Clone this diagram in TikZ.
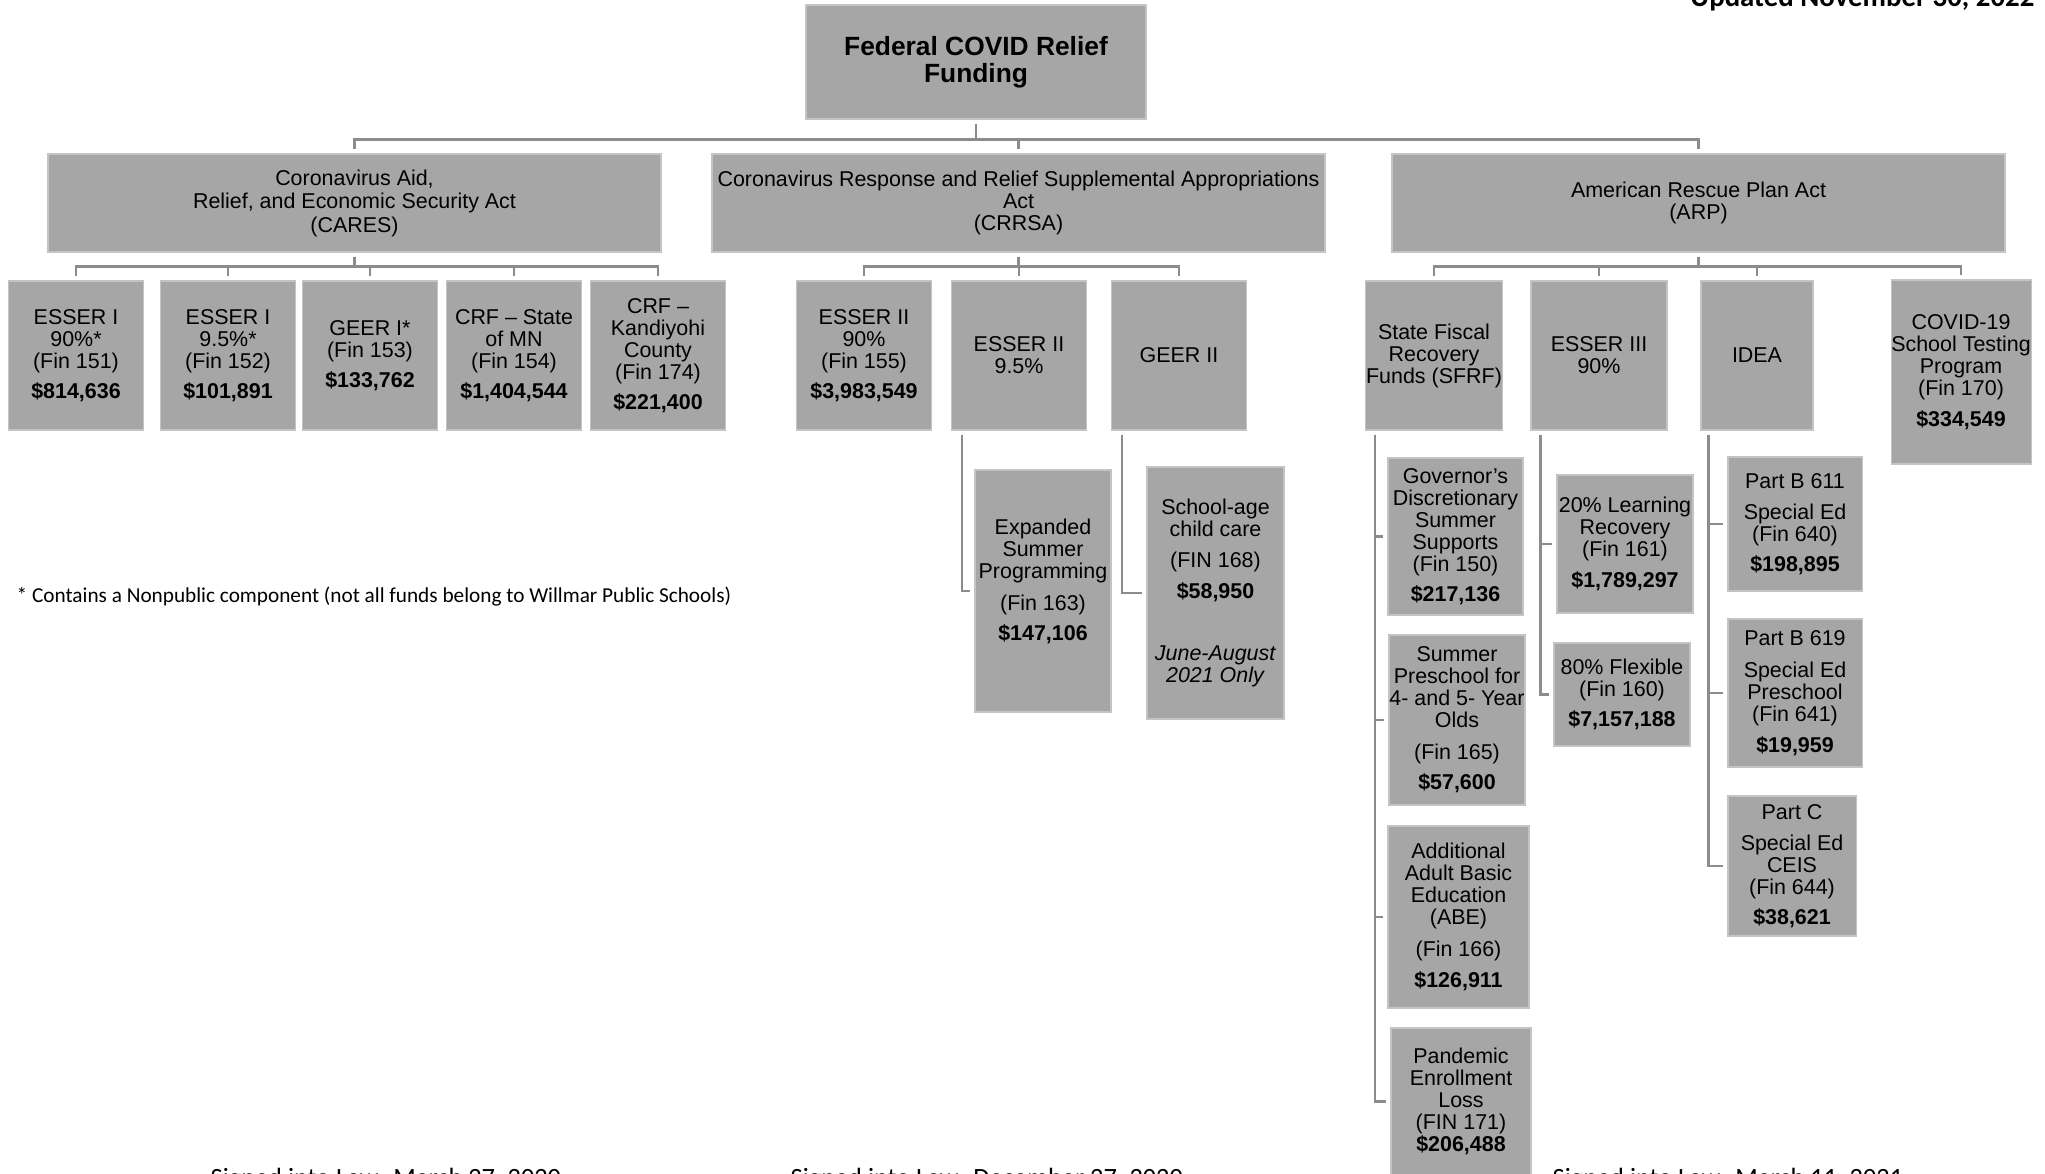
\documentclass[tikz,border=0pt]{standalone}
\usepackage{fontspec}
\setmainfont{Liberation Sans}
\newfontfamily\calibri{Carlito}
\definecolor{boxfill}{HTML}{A6A6A6}
\definecolor{boxedge}{HTML}{C4C4C4}
\definecolor{linkgray}{HTML}{8C8C8C}
\tikzset{
  fund/.style={draw=boxedge, fill=boxfill, line width=0.3pt, inner sep=0pt, align=center, font=\fontsize{6.1}{6.26}\selectfont},
  grant/.style={fund, minimum width=13.5mm, minimum height=14.9mm},
  link/.style={draw=linkgray, line width=0.8pt, shorten <=0.4mm, shorten >=0.45mm},
  remark/.style={inner sep=0pt, font=\calibri\fontsize{6.05}{7}\selectfont},
}

\begin{document}
\begin{tikzpicture}[x=0.1mm,y=-0.1mm]
  \path[use as bounding box] (0,0) rectangle (2045,1173);
  \clip (0,0) rectangle (2045,1173);

  \node [fund, minimum width=34mm, minimum height=11.4mm, font=\bfseries\fontsize{7.5}{7.8}\selectfont] (top) at (976,62) {Federal COVID Relief\\Funding};

  \node [fund, minimum width=61.3mm, minimum height=9.8mm, font=\fontsize{6.1}{6.7}\selectfont] (cares) at (354.5,203) {Coronavirus Aid,\\Relief, and Economic Security Act\\(CARES)};
  \node [fund, minimum width=61.3mm, minimum height=9.8mm] (crrsa) at (1018.5,203) {Coronavirus Response and Relief Supplemental Appropriations\\Act\\(CRRSA)};
  \node [fund, minimum width=61.3mm, minimum height=9.8mm, font=\fontsize{6.1}{6.5}\selectfont] (arp) at (1698.5,203) {American Rescue Plan Act\\(ARP)};

  \node [grant] (esserIa) at (76,355.5) {ESSER I\\90\%*\\(Fin 151)\\[2.4pt]\textbf{\$814,636}};
  \node [grant] (esserIb) at (228,355.5) {ESSER I\\9.5\%*\\(Fin 152)\\[2.4pt]\textbf{\$101,891}};
  \node [grant] (geerI) at (370,355.5) {GEER I*\\(Fin 153)\\[2.4pt]\textbf{\$133,762}};
  \node [grant] (crfmn) at (514,355.5) {CRF \textendash{} State\\of MN\\(Fin 154)\\[2.4pt]\textbf{\$1,404,544}};
  \node [grant] (crfkand) at (658,355.5) {CRF \textendash\\Kandiyohi\\County\\(Fin 174)\\[2.4pt]\textbf{\$221,400}};

  \node [grant] (esserIIa) at (864,355.5) {ESSER II\\90\%\\(Fin 155)\\[2.4pt]\textbf{\$3,983,549}};
  \node [grant] (esserIIb) at (1019,355.5) {ESSER II\\9.5\%};
  \node [grant] (geerII) at (1179,355.5) {GEER II};

  \node [grant, minimum width=13.7mm] (sfrf) at (1434,355.5) {State Fiscal\\Recovery\\Funds (SFRF)};
  \node [grant, minimum width=13.6mm] (esserIII) at (1599,355.5) {ESSER III\\90\%};
  \node [grant, minimum width=11.2mm] (idea) at (1757,355.5) {IDEA};
  \node [grant, minimum width=14mm, minimum height=18.4mm] (covid) at (1961,372) {COVID-19\\School Testing\\Program\\(Fin 170)\\[2.4pt]\textbf{\$334,549}};

  \node [fund, minimum width=13.6mm, minimum height=24.2mm] (expanded) at (1043,591) {Expanded\\Summer\\Programming\\[2.6pt](Fin 163)\\[2.4pt]\textbf{\$147,106}\\~};
  \node [fund, minimum width=13.7mm, minimum height=25.2mm] (schoolage) at (1215.5,593) {School-age\\child care\\[2.6pt](FIN 168)\\[2.4pt]\textbf{\$58,950}\\[11.4pt]\textit{June-August}\\\textit{2021 Only}};

  \node [fund, minimum width=13.5mm, minimum height=15.7mm] (governor) at (1455.5,536.5) {Governor’s\\Discretionary\\Summer\\Supports\\(Fin 150)\\[2.4pt]\textbf{\$217,136}};
  \node [fund, minimum width=13.6mm, minimum height=17mm] (preschool) at (1457,720) {Summer\\Preschool for\\4- and 5- Year\\Olds\\[2.8pt](Fin 165)\\[2.4pt]\textbf{\$57,600}};
  \node [fund, minimum width=14.1mm, minimum height=18.2mm] (abe) at (1458.5,917) {Additional\\Adult Basic\\Education\\(ABE)\\[2.8pt](Fin 166)\\[2.4pt]\textbf{\$126,911}};
  \node [fund, minimum width=14mm, minimum height=14.7mm] (pandemic) at (1461,1101.5) {Pandemic\\Enrollment\\Loss\\(FIN 171)\\\textbf{\$206,488}};

  \node [fund, minimum width=13.6mm, minimum height=13.8mm] (learning) at (1625,544) {20\% Learning\\Recovery\\(Fin 161)\\[2.4pt]\textbf{\$1,789,297}};
  \node [fund, minimum width=13.6mm, minimum height=10.3mm] (flexible) at (1622,694.5) {80\% Flexible\\(Fin 160)\\[2.4pt]\textbf{\$7,157,188}};

  \node [fund, minimum width=13.4mm, minimum height=13.4mm] (partBa) at (1795,524) {Part B 611\\[2.6pt]Special Ed\\(Fin 640)\\[2.4pt]\textbf{\$198,895}};
  \node [fund, minimum width=13.4mm, minimum height=14.8mm] (partBb) at (1795,693) {Part B 619\\[2.8pt]Special Ed\\Preschool\\(Fin 641)\\[2.6pt]\textbf{\$19,959}};
  \node [fund, minimum width=12.8mm, minimum height=14mm] (partC) at (1792,866) {Part C\\[2.6pt]Special Ed\\CEIS\\(Fin 644)\\[2.4pt]\textbf{\$38,621}};

  \draw [link] (top.south) -- ++(0,20) -| (cares.north);
  \draw [link] (top.south) -- ++(0,20) -| (crrsa.north);
  \draw [link] (top.south) -- ++(0,20) -| (arp.north);

  \draw [link] (cares.south) -- ++(0,14) -| (esserIa.north);
  \draw [link] (cares.south) -- ++(0,14) -| (esserIb.north);
  \draw [link] (cares.south) -- ++(0,14) -| (geerI.north);
  \draw [link] (cares.south) -- ++(0,14) -| (crfmn.north);
  \draw [link] (cares.south) -- ++(0,14) -| (crfkand.north);
  \draw [link] (crrsa.south) -- ++(0,14) -| (esserIIa.north);
  \draw [link] (crrsa.south) -- ++(0,14) -| (esserIIb.north);
  \draw [link] (crrsa.south) -- ++(0,14) -| (geerII.north);
  \draw [link] (arp.south) -- ++(0,14) -| (sfrf.north);
  \draw [link] (arp.south) -- ++(0,14) -| (esserIII.north);
  \draw [link] (arp.south) -- ++(0,14) -| (idea.north);
  \draw [link] (arp.south) -- ++(0,14) -| (covid.north);

  \draw [link] ([xshift=1.1mm]esserIIb.south west) |- (expanded.west);
  \draw [link] ([xshift=1.1mm]geerII.south west) |- (schoolage.west);
  \draw [link] ([xshift=1mm]sfrf.south west) |- (governor.west);
  \draw [link] ([xshift=1mm]sfrf.south west) |- (preschool.west);
  \draw [link] ([xshift=1mm]sfrf.south west) |- (abe.west);
  \draw [link] ([xshift=1mm]sfrf.south west) |- (pandemic.west);
  \draw [link] ([xshift=1mm]esserIII.south west) |- (learning.west);
  \draw [link] ([xshift=1mm]esserIII.south west) |- (flexible.west);
  \draw [link] ([xshift=0.8mm]idea.south west) |- (partBa.west);
  \draw [link] ([xshift=0.8mm]idea.south west) |- (partBb.west);
  \draw [link] ([xshift=0.8mm]idea.south west) |- (partC.west);

  \node [remark, anchor=west] (note) at (16,597) {* Contains a Nonpublic component (not all funds belong to Willmar Public Schools)};
  \node [remark, anchor=base east, font=\calibri\bfseries\fontsize{8.2}{9}\selectfont] (updated) at (2035,6) {Updated November 30, 2022};
  \node [remark, anchor=base west, font=\calibri\fontsize{7.5}{9}\selectfont] (signcares) at (210,1186) {Signed into Law: March 27, 2020};
  \node [remark, anchor=base west, font=\calibri\fontsize{7.5}{9}\selectfont] (signcrrsa) at (790,1186) {Signed into Law: December 27, 2020};
  \node [remark, anchor=base west, font=\calibri\fontsize{7.5}{9}\selectfont] (signarp) at (1552,1186) {Signed into Law: March 11, 2021};
\end{tikzpicture}
\end{document}
